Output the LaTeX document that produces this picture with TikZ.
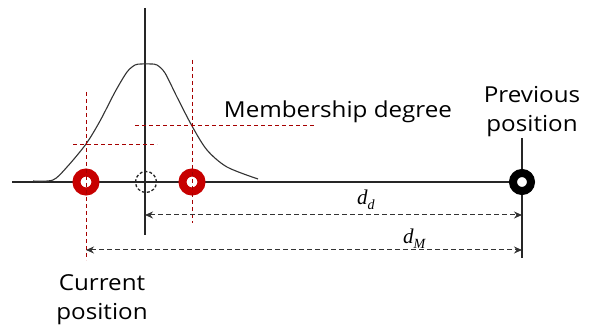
\documentclass[tikz,border=0pt]{standalone}
\usepackage{fontspec}
\setmainfont[FakeStretch=1.1]{Open Sans}
\newfontfamily\dfont[Ligatures=TeX]{Liberation Serif}
\usetikzlibrary{arrows.meta}
\tikzset{
  axisline/.style={line width=1.3pt, black!85},
  curveline/.style={line width=1.1pt, black!80},
  reddash/.style={dash pattern=on 4pt off 3pt, line width=0.9pt, red!65!black},
  dimarrow/.style={dash pattern=on 5pt off 3pt, line width=1pt, black!80,
    {Stealth[length=8pt,width=7pt]}-{Stealth[length=8pt,width=7pt]}},
  redring/.style={circle, draw=red!78!black, fill=white, line width=8pt, minimum size=19pt, inner sep=0pt},
  blackring/.style={circle, draw=black, fill=white, line width=8pt, minimum size=18pt, inner sep=0pt},
  dashring/.style={circle, draw=black!85, dash pattern=on 3pt off 2pt, line width=1.3pt, minimum size=21pt, inner sep=0pt},
  lbl/.style={font=\fontsize{22}{29}\selectfont, inner sep=0pt, align=center},
  dlbl/.style={font=\fontsize{21}{21}\selectfont\dfont\itshape, inner sep=0pt}
}
\begin{document}
\begin{tikzpicture}[x=1pt,y=-1pt]
\useasboundingbox (0,0) rectangle (592,331);
% named coordinates
\coordinate (axL) at (12,182);
\coordinate (vtop) at (145,8);
\coordinate (vbot) at (145,235);
\coordinate (ptop) at (522,138);
\coordinate (pbot) at (522,258);
\coordinate (cv1) at (86,92);
\coordinate (cv2) at (86,260);
\coordinate (ch1) at (73,144);
\coordinate (ch2) at (157,144);
\coordinate (mv1) at (192,60);
\coordinate (mv2) at (192,223);
\coordinate (mh1) at (135,125);
\coordinate (mh2) at (315,125);
\coordinate (dd1) at (145,215);
\coordinate (dd2) at (522,215);
\coordinate (dm1) at (86,250);
\coordinate (dm2) at (522,250);
% axes
\draw[axisline] (axL) -- (522,182);
\draw[axisline] (vtop) -- (vbot);
\draw[axisline] (ptop) -- (pbot);
% membership curve
\draw[curveline] plot[smooth, tension=0.5] coordinates {(33,181) (53,180) (67,167) (86,144) (100,121) (115,92) (127,72) (135,65) (141,64) (151,64) (157,65) (165,73) (177,97) (192,126) (207,150) (227,167) (258,179)};
% rings
\node[dashring] (cen) at (146,182) {};
\node[redring] (cur) at (86,182) {};
\node[redring] (mem) at (192,182) {};
\node[blackring] (prev) at (522,182) {};
% red dashed guides
\draw[reddash] (cv1) -- (cv2);
\draw[reddash] (ch1) -- (ch2);
\draw[reddash] (mv1) -- (mv2);
\draw[reddash] (mh1) -- (mh2);
% distance arrows
\draw[dimarrow] (dd1) -- (dd2);
\draw[dimarrow] (dm1) -- (dm2);
% labels
\node[lbl, anchor=base] (memlbl) at (338,118) {Membership degree};
\node[lbl, anchor=north] (prevlbl) at (532,86) {Previous\\position};
\node[lbl, anchor=north] (curlbl) at (102,274) {Current\\position};
\node[dlbl, anchor=base west] (ddlbl) at (357,205) {d\raisebox{-0.22em}{\fontsize{14}{14}\selectfont d}};
\node[dlbl, anchor=base west] (dmlbl) at (403,244) {d\raisebox{-0.22em}{\fontsize{14}{14}\selectfont M}};
\end{tikzpicture}
\end{document}
